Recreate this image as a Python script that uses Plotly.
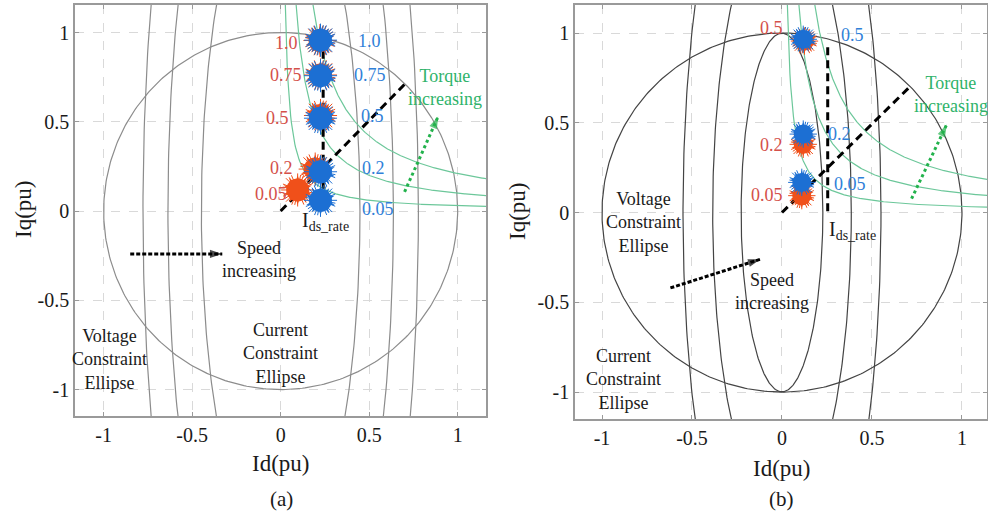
import numpy as np
import plotly.graph_objects as go

# ---------------- shared settings ----------------
tick_vals = [-1, -0.5, 0, 0.5, 1]
tick_text = ["-1", "-0.5", "0", "0.5", "1"]
cmd_labels_a = ["1.0", "0.75", "0.5", "0.2", "0.05"]
cmd_labels_b = ["0.5", "0.2", "0.05"]
ellipse_ratio = 4.4          # q-axis / d-axis semi-axis ratio of the voltage ellipses
current_limit = 1.0          # radius of the current constraint circle (pu)

# ---------------- panel (a) ----------------
a_voltage_semi_d = [0.448, 0.637, 0.778]
a_torque_const = [0.03, 0.10, 0.21]
a_ids_rate = 0.24
a_red_id = [0.222, 0.225, 0.225, 0.195, 0.096]
a_red_iq = [0.955, 0.762, 0.535, 0.235, 0.118]
a_blue_id = [0.225, 0.225, 0.225, 0.225, 0.225]
a_blue_iq = [0.957, 0.758, 0.520, 0.220, 0.060]
a_red_lab_x = [0.034, 0.028, -0.017, 0.006, -0.056]
a_red_lab_y = [0.94, 0.76, 0.52, 0.24, 0.095]
a_blue_lab_x = [0.50, 0.505, 0.52, 0.525, 0.548]
a_blue_lab_y = [0.955, 0.76, 0.53, 0.24, 0.01]

# ---------------- panel (b) ----------------
b_voltage_semi_d = [0.227, 0.385, 0.55]
b_torque_const = [0.034, 0.108, 0.21]
b_ids_rate = 0.254
b_red_id = [0.125, 0.118, 0.110]
b_red_iq = [0.955, 0.380, 0.094]
b_blue_id = [0.118, 0.118, 0.110]
b_blue_iq = [0.965, 0.437, 0.168]
b_red_lab_x = [-0.056, -0.06, -0.085]
b_red_lab_y = [1.03, 0.378, 0.10]
b_blue_lab_x = [0.39, 0.32, 0.38]
b_blue_lab_y = [0.99, 0.44, 0.16]

RED = "#f0501a"
BLUE = "#1c6fd3"
RED_TXT = "#d4504a"
BLUE_TXT = "#2f80d8"
GREEN_LINE = "#6cc79a"
GREEN_TXT = "#2fb36a"
GREEN_ARROW = "#22b24c"
INK = "#1a1a1a"
SERIF = "Liberation Serif, Times New Roman, serif"

fig = go.Figure()


def add_line(x, y, color, width, xa, ya, dash=None):
    fig.add_trace(go.Scatter(x=x, y=y, mode="lines", xaxis=xa, yaxis=ya,
                             line=dict(color=color, width=width, dash=dash),
                             hoverinfo="skip", showlegend=False))


def add_panel_curves(semi_d, torque_const, gray, xa, ya):
    t = np.linspace(0, 2 * np.pi, 400)
    # current constraint circle
    add_line(current_limit * np.cos(t), current_limit * np.sin(t), gray, 1.2, xa, ya)
    # voltage constraint ellipses
    for a in semi_d:
        add_line(a * np.cos(t), a * ellipse_ratio * np.sin(t), gray, 1.2, xa, ya)
    # constant torque hyperbolas
    for c in torque_const:
        d = np.linspace(c / 1.2, 1.2, 300)
        add_line(d, c / d, GREEN_LINE, 1.2, xa, ya)


def add_blobs(xs, ys, color, size, xa, ya):
    # a dense cloud of measured operating points, drawn as a fuzzy filled dot
    common = dict(mode="markers", xaxis=xa, yaxis=ya, hoverinfo="skip", showlegend=False)
    for ang, scale in [(0, 1.2), (22, 1.15), (11, 1.1)]:
        fig.add_trace(go.Scatter(x=xs, y=ys, marker=dict(symbol="asterisk-open", size=size * scale,
                                                           angle=ang, color=color,
                                                           line=dict(color=color, width=1)), **common))
    for ang in [0, 36]:
        fig.add_trace(go.Scatter(x=xs, y=ys, marker=dict(symbol="star", size=size * 0.92, angle=ang,
                                                           color=color, line=dict(width=0)), **common))
    fig.add_trace(go.Scatter(x=xs, y=ys, marker=dict(symbol="circle", size=size, color=color,
                                                       line=dict(width=0)), **common))


def add_arrow(x0, y0, x1, y1, color, width, dash, xa, ya):
    add_line([x0, x1], [y0, y1], color, width, xa, ya, dash=dash)
    fig.add_trace(go.Scatter(x=[x0, x1], y=[y0, y1], mode="markers", xaxis=xa, yaxis=ya,
                             marker=dict(symbol="arrow", size=[0, 13], angleref="previous",
                                         color=color, line=dict(width=0)),
                             hoverinfo="skip", showlegend=False))


def text(x, y, s, color, size, xa, ya, xanchor="center"):
    fig.add_annotation(x=x, y=y, xref=xa, yref=ya, text=s, showarrow=False,
                       xanchor=xanchor, yanchor="middle",
                       font=dict(family=SERIF, size=size, color=color))


# ================= panel (a) =================
add_panel_curves(a_voltage_semi_d, a_torque_const, "#8c8c8c", "x", "y")
add_line([a_ids_rate, a_ids_rate], [0.97, 0.0], "black", 3, "x", "y", dash="8px,5px")
add_line([0.0, 0.70], [0.0, 0.71], "black", 3, "x", "y", dash="8px,5px")
add_blobs(a_red_id, a_red_iq, RED, 23, "x", "y")
add_blobs(a_blue_id, a_blue_iq, BLUE, 23, "x", "y")
for lab, x, y in zip(cmd_labels_a, a_red_lab_x, a_red_lab_y):
    text(x, y, lab, RED_TXT, 18, "x", "y")
for lab, x, y in zip(cmd_labels_a, a_blue_lab_x, a_blue_lab_y):
    text(x, y, lab, BLUE_TXT, 18, "x", "y")
text(0.255, -0.06, "I<sub>ds_rate</sub>", INK, 20, "x", "y")
add_arrow(0.70, 0.107, 0.89, 0.53, GREEN_ARROW, 3, "3px,3px", "x", "y")
text(0.93, 0.69, "Torque<br>increasing", GREEN_TXT, 18, "x", "y")
add_arrow(-0.85, -0.24, -0.33, -0.24, "black", 3, "4px,2px", "x", "y")
text(-0.12, -0.27, "Speed<br>increasing", INK, 18, "x", "y")
text(-0.966, -0.83, "Voltage<br>Constraint<br>Ellipse", INK, 18, "x", "y")
text(0.0, -0.80, "Current<br>Constraint<br>Ellipse", INK, 18, "x", "y")

# ================= panel (b) =================
add_panel_curves(b_voltage_semi_d, b_torque_const, "#444444", "x2", "y2")
add_line([b_ids_rate, b_ids_rate], [0.92, 0.0], "black", 3, "x2", "y2", dash="8px,5px")
add_line([0.0, 0.71], [0.0, 0.70], "black", 3, "x2", "y2", dash="8px,5px")
add_blobs(b_red_id, b_red_iq, RED, 19, "x2", "y2")
add_blobs(b_blue_id, b_blue_iq, BLUE, 19, "x2", "y2")
for lab, x, y in zip(cmd_labels_b, b_red_lab_x, b_red_lab_y):
    text(x, y, lab, RED_TXT, 18, "x2", "y2")
for lab, x, y in zip(cmd_labels_b, b_blue_lab_x, b_blue_lab_y):
    text(x, y, lab, BLUE_TXT, 18, "x2", "y2")
text(0.25, -0.10, "I<sub>ds_rate</sub>", INK, 20, "x2", "y2", xanchor="left")
add_arrow(0.72, 0.077, 0.915, 0.49, GREEN_ARROW, 3, "3px,3px", "x2", "y2")
text(0.94, 0.66, "Torque<br>increasing", GREEN_TXT, 18, "x2", "y2")
add_arrow(-0.62, -0.42, -0.12, -0.26, "black", 3, "4px,2px", "x2", "y2")
text(-0.057, -0.44, "Speed<br>increasing", INK, 18, "x2", "y2")
text(-0.77, -0.055, "Voltage<br>Constraint<br>Ellipse", INK, 18, "x2", "y2")
text(-0.88, -0.93, "Current<br>Constraint<br>Ellipse", INK, 18, "x2", "y2")

# ================= axes =================
W, H = 988, 512
axis_common = dict(tickmode="array", tickvals=tick_vals, ticktext=tick_text,
                   showgrid=True, gridcolor="#d9d9d9", griddash="dash", gridwidth=1,
                   zeroline=False, showline=True, linecolor="#9a9a9a", linewidth=1.5,
                   mirror="ticks", ticks="inside", ticklen=4, tickcolor="#9a9a9a",
                   tickfont=dict(family=SERIF, size=20, color=INK))

fig.update_layout(
    width=W, height=H, margin=dict(l=0, r=0, t=0, b=0),
    paper_bgcolor="white", plot_bgcolor="white", showlegend=False,
    xaxis=dict(domain=[75 / W, 486 / W], range=[-1.162, 1.160], anchor="y", **axis_common),
    yaxis=dict(domain=[1 - 416 / H, 1 - 5 / H], range=[-1.148, 1.154], anchor="x", **axis_common),
    xaxis2=dict(domain=[575 / W, 987 / W], range=[-1.15, 1.139], anchor="y2", **axis_common),
    yaxis2=dict(domain=[1 - 419 / H, 1 - 5 / H], range=[-1.15, 1.156], anchor="x2", **axis_common),
)

# axis titles and panel captions
for px, py, s, size, rot in [(23, 210, "Iq(pu)", 23, -90), (280, 463, "Id(pu)", 23, 0),
                             (281, 499, "(a)", 21, 0), (517, 212, "Iq(pu)", 23, -90),
                             (781, 468, "Id(pu)", 23, 0), (781, 499, "(b)", 21, 0)]:
    fig.add_annotation(x=px / W, y=1 - py / H, xref="paper", yref="paper", text=s,
                       showarrow=False, textangle=rot, xanchor="center", yanchor="middle",
                       font=dict(family=SERIF, size=size, color=INK))

fig.write_html("out.html")
